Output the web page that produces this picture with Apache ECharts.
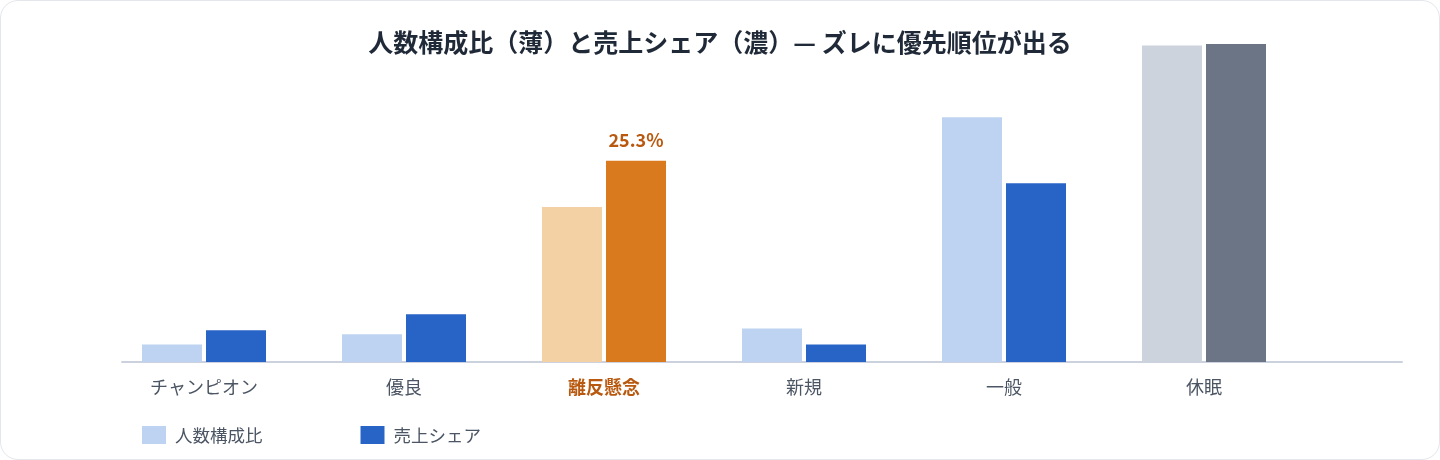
<!DOCTYPE html>
<html>
<head>
<meta charset="utf-8">
<script src="https://cdn.jsdelivr.net/npm/echarts@6/dist/echarts.min.js"></script>
<style>
  html, body { margin: 0; padding: 0; background: #ffffff; }
  #frame { position: absolute; left: 0; top: 0; width: 1440px; height: 460px; box-sizing: border-box;
           border: 1.5px solid #e3e6eb; border-radius: 18px; }
  #main { position: absolute; left: 0; top: 0; width: 1440px; height: 460px; }
</style>
</head>
<body>
<div id="frame"></div>
<div id="main"></div>
<script>
// セグメント別：人数構成比と売上シェア（%）
var categories = ['チャンピオン', '優良', '離反懸念', '新規', '一般', '休眠'];
var headcountShare = [2.2, 3.5, 19.5, 4.2, 30.8, 39.8];
var salesShare = [4.0, 6.0, 25.3, 2.2, 22.5, 40.0];
var seriesNames = ['人数構成比', '売上シェア'];
var alertCategory = '離反懸念';
var dormantCategory = '休眠';

var FONT = '"Noto Sans CJK JP", "Noto Sans", sans-serif';

function lightColor(cat) {
	if (cat === alertCategory) return '#f4d0a5';
	if (cat === dormantCategory) return '#ccd3dc';
	return '#bed3f1';
}
function darkColor(cat) {
	if (cat === alertCategory) return '#d97a1f';
	if (cat === dormantCategory) return '#6b7586';
	return '#2864c6';
}

var lightData = headcountShare.map(function (v, i) {
	return { value: v, itemStyle: { color: lightColor(categories[i]) } };
});
var darkData = salesShare.map(function (v, i) {
	var item = { value: v, itemStyle: { color: darkColor(categories[i]) } };
	if (categories[i] === alertCategory) {
		item.label = {
			show: true, position: 'top', distance: 12,
			formatter: '{c}%', color: '#b8590f', fontSize: 18, fontWeight: 'bold', fontFamily: FONT
		};
	}
	return item;
});

var chart = echarts.init(document.getElementById('main'));
var option = {
	animation: false,
	title: {
		text: '人数構成比（薄）と売上シェア（濃）— ズレに優先順位が出る',
		left: 'center', top: 25,
		textStyle: { fontFamily: FONT, fontSize: 25, fontWeight: 'bold', color: '#1f2937' }
	},
	legend: {
		left: 137, top: 421,
		itemWidth: 24, itemHeight: 18, itemGap: 98,
		icon: 'rect',
		data: seriesNames,
		textStyle: { fontFamily: FONT, fontSize: 17.5, color: '#4b5563', padding: [0, 0, 0, 4] }
	},
	grid: [
		{ left: 104, right: 136, top: 44, bottom: 98 },
		{ left: 122, right: 38, top: 44, bottom: 98 }
	],
	xAxis: [
		{
			type: 'category', gridIndex: 0, data: categories,
			axisLine: { show: false }, axisTick: { show: false },
			axisLabel: {
				margin: 16, fontFamily: FONT, fontSize: 18, color: '#4b5563',
				formatter: function (v) { return v === alertCategory ? '{hl|' + v + '}' : v; },
				rich: { hl: { fontFamily: FONT, fontSize: 18, fontWeight: 'bold', color: '#b8590f' } }
			}
		},
		{
			type: 'category', gridIndex: 1, data: categories,
			axisLine: { show: true, lineStyle: { color: '#cbd2de', width: 2 } },
			axisTick: { show: false }, axisLabel: { show: false }, splitLine: { show: false }
		}
	],
	yAxis: [
		{ type: 'value', gridIndex: 0, min: 0, max: 40, show: false },
		{ type: 'value', gridIndex: 1, min: 0, max: 40, show: false }
	],
	series: [
		{
			name: seriesNames[0], type: 'bar', xAxisIndex: 0, yAxisIndex: 0,
			barWidth: 60, barGap: '6.67%',
			itemStyle: { color: '#bed3f1' },
			data: lightData
		},
		{
			name: seriesNames[1], type: 'bar', xAxisIndex: 0, yAxisIndex: 0,
			barWidth: 60, barGap: '6.67%',
			itemStyle: { color: '#2864c6' },
			data: darkData
		}
	]
};
chart.setOption(option);
</script>
</body>
</html>
